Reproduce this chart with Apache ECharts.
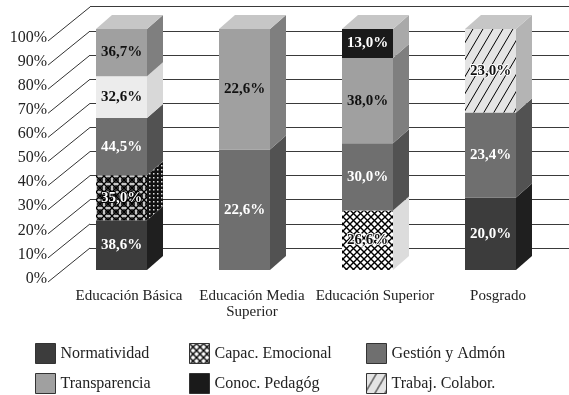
<!DOCTYPE html>
<html>
<head>
<meta charset="utf-8">
<script src="https://cdn.jsdelivr.net/npm/echarts@6/dist/echarts.min.js"></script>
<style>
  html, body { margin: 0; padding: 0; background: #fff; }
  #chart { width: 569px; height: 395px; }
</style>
</head>
<body>
<div id="chart"></div>
<script>
// categorias y ticks
const categories = ['Educación Básica', 'Educación Media\nSuperior', 'Educación Superior', 'Posgrado'];
const yTicks = [0, 10, 20, 30, 40, 50, 60, 70, 80, 90, 100];

// valores (orden de apilado, de abajo hacia arriba)
const normatividad   = [38.6, null, null, 20.0];
const capacEmocional = [35.0, null, 26.6, null];
const gestionAdmon   = [44.5, 22.6, 30.0, 23.4];
const trabajColabor  = [32.6, null, null, 23.0];
const transparencia  = [36.7, 22.6, 38.0, null];
const conocPedagog   = [null, null, 13.0, null];

const BAR_W = 51;   // ancho cara frontal
const DX = 16, DY = 14; // profundidad 3D
const FONT = 'Liberation Serif, Times New Roman, serif';

// patrones (tramas)
function makePattern(w, h, bg, draw) {
  const c = document.createElement('canvas');
  c.width = w; c.height = h;
  const ctx = c.getContext('2d');
  ctx.fillStyle = bg;
  ctx.fillRect(0, 0, w, h);
  ctx.strokeStyle = '#000';
  draw(ctx);
  return { image: c, repeat: 'repeat' };
}
const crossPat = makePattern(7, 7, '#fff', function (ctx) {
  ctx.lineWidth = 1.4;
  ctx.beginPath();
  ctx.moveTo(-1, -1); ctx.lineTo(8, 8);
  ctx.moveTo(8, -1); ctx.lineTo(-1, 8);
  ctx.stroke();
});
const circlePat = makePattern(8, 8, '#c8c8c8', function (ctx) {
  ctx.lineWidth = 1.3;
  ctx.beginPath();
  ctx.moveTo(-1, -1); ctx.lineTo(9, 9);
  ctx.moveTo(9, -1); ctx.lineTo(-1, 9);
  ctx.stroke();
  ctx.beginPath();
  ctx.arc(4, 4, 2.2, 0, Math.PI * 2);
  ctx.stroke();
});
const dotPat = makePattern(4, 4, '#111', function (ctx) {
  ctx.fillStyle = '#ddd';
  ctx.fillRect(1, 1, 1.5, 1.5);
});
const hatchPat = makePattern(10, 17, '#e4e4e4', function (ctx) {
  ctx.lineWidth = 1;
  ctx.beginPath();
  ctx.moveTo(-10, 17); ctx.lineTo(0, 0);
  ctx.moveTo(0, 17); ctx.lineTo(10, 0);
  ctx.moveTo(10, 17); ctx.lineTo(20, 0);
  ctx.stroke();
});

// capas con su estilo; item = excepciones por categoria
const layers = [
  { name: 'Normatividad', data: normatividad, front: '#3c3c3c', side: '#1f1f1f', text: '#fff' },
  { name: 'Capac. Emocional', data: capacEmocional, front: crossPat, side: '#dcdcdc', text: '#111', border: '#fff',
    item: { 0: { front: circlePat, side: dotPat, text: '#fff', border: '#000' } } },
  { name: 'Gestión y Admón', data: gestionAdmon, front: '#6f6f6f', side: '#525252', text: '#fff' },
  { name: 'Trabaj. Colabor.', data: trabajColabor, front: hatchPat, side: '#b4b4b4', text: '#111', border: '#fff',
    item: { 0: { front: '#ececec', side: '#d8d8d8', text: '#111', border: null } } },
  { name: 'Transparencia', data: transparencia, front: '#a0a0a0', side: '#7f7f7f', text: '#111' },
  { name: 'Conoc. Pedagóg', data: conocPedagog, front: '#1a1a1a', side: '#a9a9a9', text: '#fff' }
];

function totalOf(i) {
  let t = 0;
  layers.forEach(function (l) { if (l.data[i] != null) t += l.data[i]; });
  return t;
}
function pctOf(arr, i) {
  return arr[i] == null ? null : arr[i] / totalOf(i) * 100;
}
function styleOf(l, i, key) {
  if (l.item && l.item[i] && l.item[i][key] !== undefined) return l.item[i][key];
  return l[key];
}
function fmt(v) {
  return v.toFixed(1).replace('.', ',') + '%';
}

const barSeries = layers.map(function (l) {
  return {
    name: l.name,
    type: 'bar',
    stack: 'total',
    barWidth: BAR_W,
    xAxisIndex: 0,
    yAxisIndex: 0,
    itemStyle: { color: l.front },
    data: l.data.map(function (v, i) {
      if (v == null) return '-';
      const border = styleOf(l, i, 'border');
      return {
        value: pctOf(l.data, i),
        raw: v,
        itemStyle: { color: styleOf(l, i, 'front') },
        label: {
          color: styleOf(l, i, 'text'),
          textBorderColor: border || 'transparent',
          textBorderWidth: border ? 2 : 0
        }
      };
    }),
    label: {
      show: true,
      position: 'inside',
      fontFamily: FONT,
      fontWeight: 'bold',
      fontSize: 15,
      formatter: function (p) { return fmt(p.data.raw); }
    }
  };
});

// caras laterales y superior de cada barra
function renderFaces(params, api) {
  const idx = api.value(0);
  const cx = api.coord([idx, 0])[0];
  const xl = cx - BAR_W / 2, xr = cx + BAR_W / 2;
  const children = [];
  let cum = 0, yTop = null;
  layers.forEach(function (l) {
    const pct = pctOf(l.data, idx);
    if (pct == null) return;
    const yb = api.coord([idx, cum])[1];
    cum += pct;
    const yt = api.coord([idx, cum])[1];
    children.push({
      type: 'polygon',
      shape: { points: [[xr, yt], [xr + DX, yt - DY], [xr + DX, yb - DY], [xr, yb]] },
      style: { fill: styleOf(l, idx, 'side') }
    });
    yTop = yt;
  });
  children.push({
    type: 'polygon',
    shape: { points: [[xl, yTop], [xl + DX, yTop - DY], [xr + DX, yTop - DY], [xr, yTop]] },
    style: { fill: '#c6c6c6' }
  });
  return { type: 'group', children: children };
}

// diagonales que unen las etiquetas del eje con la pared del fondo
function renderDiagonals(params, api) {
  const y = api.coord([0, api.value(1)])[1];
  return {
    type: 'line',
    shape: { x1: 48, y1: y + 12, x2: 90, y2: y - 22 },
    style: { stroke: '#333', lineWidth: 1 }
  };
}

const chart = echarts.init(document.getElementById('chart'));
chart.setOption({
  backgroundColor: '#fff',
  animation: false,
  grid: [
    { left: 60, right: 17, top: 29, bottom: 125 },     // caras frontales
    { left: 90, right: 0, top: 6.7, bottom: 147 }      // pared del fondo
  ],
  xAxis: [
    {
      type: 'category', gridIndex: 0, data: categories,
      axisLine: { show: false }, axisTick: { show: false },
      axisLabel: {
        fontFamily: FONT, fontSize: 15, color: '#222', lineHeight: 16,
        margin: 18, padding: [0, 0, 0, 15], interval: 0
      }
    },
    { type: 'value', gridIndex: 1, show: false }
  ],
  yAxis: [
    {
      type: 'value', gridIndex: 0, min: 0, max: 100, interval: 10,
      axisLine: { show: false }, axisTick: { show: false }, splitLine: { show: false },
      axisLabel: {
        formatter: '{value}%', fontFamily: FONT, fontSize: 16, color: '#222',
        margin: 13, verticalAlign: 'top', lineHeight: 17, padding: [0, 0, 0, 0]
      }
    },
    {
      type: 'value', gridIndex: 1, min: 0, max: 100, interval: 10,
      axisLine: { show: false }, axisTick: { show: false }, axisLabel: { show: false },
      splitLine: { show: true, lineStyle: { color: '#3a3a3a', width: 1 } }
    }
  ],
  legend: [
    { data: ['Normatividad', 'Transparencia'], left: 35, top: 343 },
    { data: ['Capac. Emocional', 'Conoc. Pedagóg'], left: 189, top: 343 },
    { data: ['Gestión y Admón', 'Trabaj. Colabor.'], left: 366, top: 343 }
  ].map(function (lg) {
    return Object.assign(lg, {
      orient: 'vertical', icon: 'rect', itemWidth: 20, itemHeight: 20, itemGap: 9,
      padding: 0, selectedMode: false,
      itemStyle: { borderColor: '#333', borderWidth: 1 },
      textStyle: { fontFamily: FONT, fontSize: 16, color: '#222' }
    });
  }),
  series: barSeries.concat([
    {
      type: 'custom', name: 'caras', xAxisIndex: 0, yAxisIndex: 0, silent: true,
      renderItem: renderFaces,
      encode: { x: 0, y: 1 },
      data: categories.map(function (c, i) { return [i, 0]; })
    },
    {
      type: 'custom', name: 'diagonales', xAxisIndex: 0, yAxisIndex: 0, silent: true,
      renderItem: renderDiagonals,
      encode: { x: 0, y: 1 },
      data: yTicks.map(function (t) { return [0, t]; })
    }
  ])
});
</script>
</body>
</html>
